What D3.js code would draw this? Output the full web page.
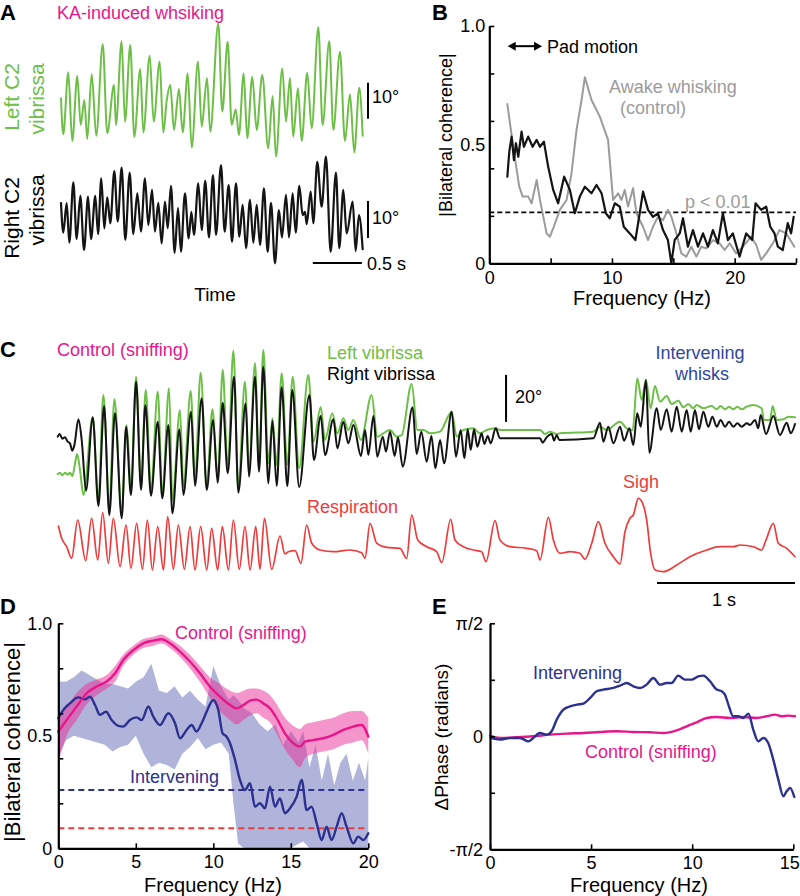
<!DOCTYPE html>
<html><head><meta charset="utf-8">
<script src="https://cdn.jsdelivr.net/npm/d3@7"></script>
<style>
body{margin:0;background:#fff;}
svg{display:block;font-family:"Liberation Sans",Arial,Helvetica,sans-serif;}
</style></head><body>
<svg id="fig" width="800" height="896"></svg>
<script>
// ---------------- DATA ----------------
// Panel A: KA-induced whisking, [time (s), angle (deg)]
const aLeft = [[0,-2.3],[0.023,-12.3],[0.074,4.9],[0.115,-14.2],[0.166,3.9],[0.201,-9.7],[0.238,-2.8],[0.268,-13.6],[0.313,4.4],[0.360,-12.7],[0.426,12.8],[0.472,-12.0],[0.541,1.4],[0.561,-9.7],[0.619,13.6],[0.653,-8.8],[0.707,12.5],[0.748,-13.0],[0.809,5.8],[0.840,-11.8],[0.905,9.5],[0.946,-8.8],[1.007,7.9],[1.044,-11.8],[1.078,-3.1],[1.115,1.4],[1.153,-11.1],[1.204,0.3],[1.242,-11.8],[1.293,4.6],[1.334,-16.0],[1.398,7.9],[1.436,-10.2],[1.490,3.3],[1.523,-11.6],[1.605,18.5],[1.646,-6.0],[1.701,13.4],[1.742,-9.7],[1.783,-5.4],[1.816,-12.5],[1.864,4.6],[1.901,-13.4],[1.952,3.7],[1.997,-11.1],[2.054,4.2],[2.115,-16.2],[2.160,-1.7],[2.194,-18.5],[2.258,6.0],[2.296,-8.8],[2.337,3.3],[2.370,-13.0],[2.418,0.5],[2.456,-14.2],[2.513,4.8],[2.558,-10.6],[2.626,17.4],[2.670,-9.7],[2.738,13.6],[2.779,-11.1],[2.847,10.6],[2.898,-14.2],[2.949,-1.2],[2.993,-17.3],[3.044,0.6],[3.079,-12.7]];
const aRight = [[0,1.9],[0.023,-6.3],[0.058,1.9],[0.085,-9.1],[0.126,7.7],[0.160,-8.1],[0.197,3.9],[0.235,-11.1],[0.276,3.7],[0.306,-8.1],[0.350,3.9],[0.378,-6.7],[0.411,8.8],[0.442,-5.1],[0.472,3.5],[0.503,-3.7],[0.544,10.8],[0.579,-3.2],[0.619,11.8],[0.656,-8.3],[0.701,10.4],[0.738,-6.7],[0.779,4.6],[0.816,-6.0],[0.857,8.8],[0.891,-4.2],[0.929,5.6],[0.959,-6.0],[0.993,2.0],[1.027,-9.3],[1.061,2.3],[1.089,-5.1],[1.122,6.7],[1.160,-11.9],[1.194,0.5],[1.224,-11.6],[1.265,4.6],[1.303,-7.9],[1.330,-0.5],[1.357,-6.9],[1.401,7.4],[1.436,-5.6],[1.472,8.1],[1.510,-7.6],[1.551,9.7],[1.582,-6.9],[1.633,12.5],[1.670,-6.0],[1.711,6.9],[1.745,-8.8],[1.786,7.4],[1.820,-7.4],[1.854,1.4],[1.888,-10.6],[1.929,2.8],[1.963,-9.1],[1.997,1.4],[2.031,-9.7],[2.071,6.0],[2.109,-11.6],[2.143,2.0],[2.184,-14.8],[2.224,0],[2.255,-7.6],[2.296,4.2],[2.327,-7.6],[2.364,4.6],[2.395,-6.3],[2.432,6.7],[2.466,-1.4],[2.490,-0.5],[2.507,-3.9],[2.548,5.1],[2.575,-3.7],[2.615,13.4],[2.660,0.9],[2.704,14.8],[2.752,-11.6],[2.806,10.4],[2.840,-10.6],[2.881,5.6],[2.915,-6.5],[2.977,2.3],[3.007,-11.4],[3.041,-1.4],[3.079,-10.9]];

// Panel B: |bilateral coherence| vs frequency (Hz)
const bControl = [[1.47,0.671],[1.95,0.491],[2.44,0.323],[2.72,0.281],[3.17,0.281],[3.45,0.253],[3.86,0.351],[4.13,0.267],[4.67,0.126],[4.94,0.112],[5.26,0.154],[5.75,0.225],[6.30,0.267],[6.70,0.379],[7.11,0.562],[7.52,0.688],[7.79,0.784],[8.33,0.688],[9.01,0.618],[9.68,0.520],[10.09,0.267],[10.50,0.295],[10.77,0.267],[11.04,0.309],[11.31,0.239],[11.72,0.316],[11.99,0.211],[12.53,0.154],[12.94,0.098],[13.34,0.154],[13.75,0.196],[14.16,0.182],[14.56,0.225],[14.84,0.196],[15.25,0.126],[15.65,0.042],[16.06,0.028],[16.47,0.070],[16.88,0.028],[17.28,0.070],[17.69,0.063],[18.23,0.098],[18.77,0.084],[19.18,0.056],[19.59,0.084],[20.13,0.042],[20.67,0.070],[21.35,0.112],[21.76,0.077],[22.16,0.014],[22.57,0.042],[23.11,0.084],[23.65,0.140],[24.20,0.126],[24.87,0.070]];
const bKA = [[1.47,0.365],[1.63,0.470],[1.82,0.534],[2.01,0.435],[2.17,0.506],[2.36,0.449],[2.63,0.555],[2.82,0.491],[3.17,0.534],[3.53,0.491],[3.86,0.520],[4.13,0.491],[4.45,0.513],[4.80,0.407],[5.21,0.309],[5.61,0.253],[6.10,0.365],[6.57,0.309],[6.97,0.211],[7.38,0.281],[7.79,0.323],[8.33,0.295],[8.74,0.330],[9.15,0.295],[9.50,0.211],[9.82,0.190],[10.23,0.253],[10.63,0.239],[10.96,0.154],[11.45,0.126],[11.91,0.098],[12.26,0.211],[12.53,0.302],[12.94,0.225],[13.34,0.196],[13.75,0.211],[14.16,0.140],[14.56,0.098],[14.84,0.0],[15.11,0.098],[15.52,0.126],[15.79,0.190],[16.19,0.070],[16.60,0.140],[17.01,0.070],[17.42,0.126],[17.82,0.070],[18.23,0.140],[18.63,0.084],[19.04,0.211],[19.45,0.098],[19.85,0.126],[20.40,0.028],[20.94,0.126],[21.43,0.098],[21.70,0.253],[22.16,0.225],[22.57,0.239],[22.90,0.154],[23.25,0.126],[23.52,0.070],[23.92,0.056],[24.33,0.169],[24.60,0.126],[24.81,0.196]];
const bThreshold = 0.215;
const bPadMotion = [1.5, 4.3];
const bYTicks = [0, 0.2, 0.4, 0.6, 0.8, 1.0];
const bYLabels = [0, 0.5, 1.0];
const bXTicks = [0, 5, 10, 15, 20, 25];
const bXLabels = [0, 10, 20];

// Panel C: sniffing, [time (s), angle (deg)] and respiration [time (s), a.u.]
const cLeft = [[0,-14.47],[0.017,-13.90],[0.034,-15.04],[0.053,-13.90],[0.072,-14.75],[0.089,-13.90],[0.106,-15.32],[0.126,-9.93],[0.140,-5.96],[0.162,-12.77],[0.186,-23.40],[0.254,9.65],[0.295,-25.53],[0.331,19.15],[0.374,-29.08],[0.411,17.30],[0.464,-30.50],[0.500,6.38],[0.531,-21.28],[0.568,26.95],[0.604,-19.15],[0.638,21.28],[0.676,-21.28],[0.725,20.57],[0.758,-22.70],[0.807,21.99],[0.831,-25.53],[0.886,12.77],[0.911,-19.86],[0.964,20.85],[0.995,-17.02],[1.036,28.65],[1.080,-19.15],[1.121,13.05],[1.159,-15.60],[1.196,29.79],[1.232,-12.06],[1.273,38.01],[1.309,-19.86],[1.357,24.82],[1.386,-12.77],[1.430,32.62],[1.459,-11.35],[1.490,38.30],[1.527,-9.93],[1.556,9.22],[1.587,-10.64],[1.623,28.37],[1.664,-10.64],[1.703,26.95],[1.750,-12.0],[1.816,27.66],[1.853,-0.71],[1.906,13.90],[1.937,0],[1.990,11.35],[2.027,2.84],[2.070,9.22],[2.106,4.26],[2.143,8.51],[2.198,0],[2.275,19.15],[2.316,1.42],[2.360,2.84],[2.408,4.26],[2.457,1.42],[2.493,2.13],[2.565,23.83],[2.606,4.26],[2.650,4.26],[2.698,2.84],[2.771,3.55],[2.855,12.06],[2.891,1.42],[2.940,4.26],[3.012,4.96],[3.060,2.84],[3.109,4.26],[3.174,4.96],[3.205,4.26],[3.495,4.26],[3.531,2.55],[3.568,3.55],[3.616,2.55],[3.640,2.84],[3.882,3.55],[3.930,5.67],[3.978,4.26],[4.075,7.80],[4.123,4.96],[4.167,4.26],[4.200,26.24],[4.232,17.02],[4.263,25.53],[4.297,13.48],[4.328,22.98],[4.365,16.31],[4.413,18.72],[4.449,15.32],[4.498,16.74],[4.534,13.90],[4.570,15.32],[4.606,13.48],[4.630,14.89],[4.679,13.48],[4.739,14.47],[4.775,13.05],[4.804,14.47],[4.836,13.05],[4.865,14.18],[4.896,13.05],[4.925,14.18],[4.957,13.05],[4.993,14.18],[5.041,14.89],[5.101,13.48],[5.118,8.51],[5.162,8.51],[5.181,14.47],[5.210,8.51],[5.259,8.79],[5.295,9.93],[5.343,9.65]];
const cRight = [[0,1.42],[0.014,2.55],[0.034,0.57],[0.053,1.13],[0.072,-0.71],[0.089,-1.42],[0.106,-4.54],[0.121,-2.13],[0.150,8.79],[0.174,0],[0.205,-21.56],[0.254,9.65],[0.295,-28.09],[0.336,14.47],[0.374,-31.91],[0.415,11.35],[0.464,-33.33],[0.495,5.67],[0.531,-23.40],[0.568,24.82],[0.604,-21.28],[0.635,14.89],[0.676,-23.69],[0.725,7.80],[0.758,-24.82],[0.802,6.38],[0.831,-31.21],[0.882,4.54],[0.911,-23.40],[0.966,12.06],[0.995,-19.57],[1.043,17.73],[1.080,-21.28],[1.126,8.51],[1.159,-18.16],[1.196,15.89],[1.232,-14.18],[1.278,26.95],[1.309,-22.41],[1.362,15.60],[1.386,-15.60],[1.430,26.95],[1.459,-13.48],[1.490,31.21],[1.527,-18.44],[1.556,8.23],[1.587,-19.57],[1.623,22.41],[1.664,-19.57],[1.700,21.28],[1.750,-20.0],[1.824,19.15],[1.857,-8.51],[1.906,10.21],[1.937,-6.38],[1.998,8.79],[2.027,-3.55],[2.070,7.80],[2.106,-1.42],[2.143,6.38],[2.198,-6.81],[2.227,4.26],[2.251,-6.38],[2.288,10.21],[2.316,-7.09],[2.355,1.42],[2.379,-4.96],[2.408,3.55],[2.442,-6.81],[2.466,1.13],[2.500,-11.35],[2.572,13.90],[2.601,-5.96],[2.635,3.55],[2.674,-9.22],[2.708,1.70],[2.737,-12.06],[2.771,0],[2.800,-9.93],[2.855,12.06],[2.886,-7.09],[2.920,4.26],[2.947,-7.80],[2.971,4.54],[2.993,-4.26],[3.017,4.54],[3.041,-2.84],[3.072,2.84],[3.092,-1.70],[3.116,1.70],[3.138,-1.42],[3.174,4.96],[3.205,0.71],[3.495,0.71],[3.514,-1.13],[3.543,1.13],[3.580,2.55],[3.597,-0.28],[3.616,2.13],[3.635,0],[3.882,0.71],[3.930,7.38],[3.954,-0.71],[3.990,5.67],[4.027,-1.42],[4.075,5.67],[4.104,-0.28],[4.143,4.96],[4.171,-2.13],[4.200,11.35],[4.225,5.67],[4.263,25.53],[4.287,-5.39],[4.341,13.48],[4.370,4.26],[4.413,13.05],[4.449,3.55],[4.486,14.18],[4.522,3.55],[4.558,12.77],[4.587,3.55],[4.618,12.77],[4.647,4.54],[4.679,12.06],[4.715,5.67],[4.744,9.93],[4.776,5.67],[4.804,8.51],[4.836,5.67],[4.865,7.80],[4.896,5.67],[4.925,7.09],[4.957,5.67],[4.993,7.09],[5.017,6.38],[5.053,8.51],[5.077,4.96],[5.094,10.64],[5.133,2.55],[5.186,10.21],[5.234,2.13],[5.283,7.38],[5.312,2.84],[5.343,6.81]];
const cResp = [[0.005,4.6],[0.029,3.37],[0.065,2.53],[0.101,1.37],[0.145,5.2],[0.203,1.13],[0.246,5.37],[0.290,1.2],[0.326,5.93],[0.367,0.87],[0.403,5.37],[0.452,0.53],[0.495,4.7],[0.531,0.37],[0.572,4.87],[0.614,0.27],[0.650,5.2],[0.686,0.2],[0.725,4.53],[0.766,0.2],[0.797,5.53],[0.838,0.27],[0.874,4.7],[0.918,0.27],[0.959,4.53],[0.995,0.2],[1.036,4.53],[1.080,0.2],[1.116,4.37],[1.159,0.2],[1.193,4.53],[1.237,0.2],[1.273,5.2],[1.316,0.27],[1.357,4.53],[1.394,0.2],[1.435,4.53],[1.466,0.27],[1.498,5.37],[1.551,0.27],[1.611,3.6],[1.647,1.8],[1.671,2.03],[1.720,2.13],[1.763,0.87],[1.804,4.7],[1.841,2.87],[1.901,2.2],[1.998,2.03],[2.118,2.2],[2.203,1.93],[2.227,1.37],[2.263,4.87],[2.312,2.87],[2.384,2.47],[2.481,2.37],[2.529,1.37],[2.565,5.7],[2.609,3.2],[2.674,2.53],[2.746,2.03],[2.783,0.93],[2.848,5.27],[2.879,3.2],[2.940,2.53],[3.012,2.2],[3.072,2.03],[3.104,1.03],[3.169,5.13],[3.205,3.2],[3.278,2.53],[3.399,2.37],[3.471,2.13],[3.495,1.2],[3.556,5.47],[3.592,3.2],[3.640,1.87],[3.713,2.03],[3.785,1.87],[3.821,1.27],[3.870,2.87],[3.918,5.03],[3.966,2.87],[4.027,1.53],[4.075,0.8],[4.111,4.03],[4.147,5.37],[4.171,5.7],[4.208,7.37],[4.239,6.87],[4.268,5.2],[4.297,1.87],[4.329,0.2],[4.389,0.03],[4.486,0.7],[4.582,1.53],[4.703,2.2],[4.800,2.53],[4.896,2.53],[4.945,2.7],[5.041,2.53],[5.101,2.2],[5.133,3.2],[5.186,4.87],[5.222,2.87],[5.283,2.37],[5.343,1.53]];

// Panel D: coherence spectra
const dCtrlFreq = [0,0.54,1.18,1.83,2.47,3.12,3.66,4.19,4.84,5.48,6.13,6.67,7.20,7.85,8.49,9.14,9.78,10.43,11.08,11.51,11.94,12.37,12.80,13.23,13.66,14.09,14.62,15.05,15.59,15.91,16.45,17.10,17.74,18.39,19.03,19.57,20.0];
const dCtrlMean = [0.519,0.570,0.630,0.689,0.719,0.741,0.778,0.837,0.881,0.911,0.923,0.929,0.911,0.874,0.830,0.778,0.719,0.674,0.637,0.622,0.637,0.656,0.661,0.644,0.622,0.578,0.511,0.474,0.452,0.474,0.481,0.489,0.504,0.526,0.541,0.548,0.496];
const dCtrlHigh = [0.60,0.63,0.69,0.73,0.75,0.77,0.81,0.86,0.90,0.93,0.94,0.95,0.93,0.90,0.86,0.81,0.76,0.73,0.70,0.69,0.70,0.71,0.71,0.70,0.68,0.64,0.58,0.55,0.53,0.55,0.56,0.57,0.58,0.60,0.61,0.61,0.58];
const dCtrlLow = [0.38,0.50,0.57,0.64,0.68,0.71,0.74,0.81,0.86,0.89,0.90,0.91,0.89,0.85,0.80,0.74,0.67,0.61,0.57,0.55,0.57,0.59,0.60,0.58,0.56,0.51,0.44,0.40,0.36,0.40,0.42,0.43,0.44,0.46,0.47,0.48,0.42];
const dIntFreq = [0,0.32,0.75,1.29,1.72,2.04,2.37,2.69,3.08,3.44,3.87,4.19,4.62,5.05,5.38,5.81,6.13,6.56,7.10,7.53,7.85,8.28,8.60,8.92,9.25,9.57,10.00,10.32,10.60,10.86,11.08,11.40,11.72,12.04,12.37,12.69,13.01,13.33,13.66,13.98,14.30,14.62,14.95,15.38,15.70,16.02,16.34,16.67,16.99,17.31,17.63,17.96,18.28,18.60,19.03,19.35,19.68,20.0];
const dIntMean = [0.578,0.615,0.644,0.671,0.662,0.674,0.637,0.593,0.607,0.570,0.544,0.541,0.570,0.582,0.570,0.630,0.585,0.548,0.600,0.556,0.489,0.526,0.548,0.519,0.556,0.607,0.659,0.615,0.511,0.496,0.467,0.393,0.304,0.259,0.289,0.185,0.200,0.178,0.274,0.185,0.222,0.156,0.178,0.230,0.304,0.170,0.185,0.111,0.037,0.096,0.037,0.096,0.156,0.096,0.022,0.052,0.037,0.067];
const dBandFreq = [0,0.5,1.0,1.5,2.0,2.5,3.0,3.5,4.0,4.5,5.0,5.5,6.0,6.5,7.0,7.5,8.0,8.5,9.0,9.5,10.0,10.5,11.0,11.3,11.6,12.0,12.5,13.0,13.5,14.0,14.5,15.0,15.5,15.8,16.2,16.6,17.0,17.4,17.8,18.2,18.6,19.0,19.4,19.8,20.0];
const dIntHigh = [0.74,0.74,0.76,0.79,0.77,0.75,0.73,0.73,0.72,0.71,0.74,0.76,0.82,0.70,0.69,0.72,0.67,0.70,0.66,0.63,0.81,0.72,0.66,0.68,0.66,0.62,0.60,0.55,0.52,0.55,0.46,0.52,0.47,0.52,0.36,0.46,0.30,0.42,0.28,0.38,0.42,0.30,0.38,0.30,0.40];
const dIntLow = [0.41,0.48,0.50,0.49,0.48,0.47,0.46,0.43,0.45,0.46,0.50,0.42,0.36,0.38,0.37,0.35,0.42,0.45,0.49,0.44,0.46,0.47,0.42,0.20,0.02,0,0,0,0,0,0,0,0.02,0.03,0,0,0,0,0,0,0,0,0,0,0];
const dSigInt = 0.259;
const dSigCtrl = 0.089;
const dYTicks = [0, 0.2, 0.4, 0.6, 0.8, 1.0];
const dYLabels = [0, 0.5, 1.0];
const dXTicks = [0, 5, 10, 15, 20];

// Panel E: phase difference (radians)
const eIntervening = [[0.03,-0.023],[0.49,-0.046],[0.99,-0.023],[1.48,-0.023],[1.90,-0.070],[2.14,-0.023],[2.47,0.046],[2.80,0.023],[3.05,0.070],[3.30,0.232],[3.63,0.371],[3.96,0.417],[4.29,0.440],[4.62,0.454],[4.95,0.533],[5.27,0.626],[5.60,0.649],[6.10,0.672],[6.43,0.704],[6.76,0.741],[7.09,0.695],[7.42,0.672],[7.75,0.718],[8.08,0.811],[8.41,0.718],[8.74,0.741],[8.98,0.741],[9.31,0.843],[9.64,0.788],[9.97,0.788],[10.30,0.834],[10.55,0.843],[10.88,0.765],[11.21,0.649],[11.46,0.626],[11.62,0.579],[11.79,0.440],[12.03,0.278],[12.28,0.278],[12.53,0.255],[12.78,0.315],[13.02,0.093],[13.27,-0.070],[13.52,-0.023],[13.76,-0.093],[14.01,-0.324],[14.26,-0.602],[14.51,-0.834],[14.67,-0.765],[14.84,-0.718],[15.05,-0.843]];
const eControl = [[0,0.009],[0.49,-0.023],[1.32,-0.014],[2.14,0],[2.97,0.023],[3.79,0.037],[4.62,0.046],[5.44,0.060],[6.26,0.070],[7.09,0.060],[7.91,0.056],[8.57,0.046],[9.23,0.083],[9.73,0.139],[10.22,0.195],[10.71,0.255],[11.21,0.269],[11.87,0.255],[12.53,0.269],[13.19,0.255],[13.68,0.278],[14.09,0.301],[14.42,0.278],[14.75,0.287],[15.08,0.278]];
const eYTicks = [-Math.PI/2, -Math.PI/4, 0, Math.PI/4, Math.PI/2];
const eYLabels = [-Math.PI/2, 0, Math.PI/2];
const eYLabelText = ["-\u03c0/2", "0", "\u03c0/2"];
const eXTicks = [0, 5, 10, 15];

// ---------------- DRAWING ----------------
const FONT = '"Liberation Sans", Arial, Helvetica, sans-serif';
const GREEN = "#6dbf47", BLACK = "#141414", RED = "#ef3b3b", MAG = "#e8168a", NAVY = "#2c3190", BLUE = "#2e46a0", GRAY = "#9b9b9b";
const svg = d3.select("#fig");

function txt(x, y, s, o = {}) {
  const t = svg.append("text").attr("x", x).attr("y", y).text(s)
    .attr("font-family", FONT)
    .attr("font-size", o.size || 18).attr("fill", o.color || "#000")
    .attr("text-anchor", o.anchor || "start")
    .attr("dominant-baseline", o.baseline || "central");
  if (o.weight) t.attr("font-weight", o.weight);
  if (o.rotate) t.attr("transform", `rotate(${o.rotate},${x},${y})`);
  return t;
}
function vbar(x, y0, y1, w) {
  svg.append("line").attr("x1", x).attr("x2", x).attr("y1", y0).attr("y2", y1).attr("stroke", "#000").attr("stroke-width", w || 2);
}
function hbar(x0, x1, y, w) {
  svg.append("line").attr("x1", x0).attr("x2", x1).attr("y1", y).attr("y2", y).attr("stroke", "#000").attr("stroke-width", w || 2);
}
function trace(data, xs, ys, color, width, curve) {
  const ln = d3.line().x(d => xs(d[0])).y(d => ys(d[1])).curve(curve || d3.curveMonotoneX);
  svg.append("path").datum(data).attr("d", ln).attr("fill", "none").attr("stroke", color)
    .attr("stroke-width", width || 2).attr("stroke-linejoin", "round").attr("stroke-linecap", "round");
}
function axes(xs, ys, xTicks, xLabels, xFmt, yTicks, yLabels, yFmt, o) {
  const gx = svg.append("g").attr("transform", `translate(0,${ys.range()[0]})`)
    .call(d3.axisBottom(xs).tickValues(xTicks).tickSizeInner(-5).tickSizeOuter(0).tickFormat(""));
  const gy = svg.append("g").attr("transform", `translate(${xs.range()[0]},0)`)
    .call(d3.axisLeft(ys).tickValues(yTicks).tickSizeInner(-5).tickSizeOuter(0).tickFormat(""));
  [gx, gy].forEach(g => {
    g.select(".domain").attr("stroke", "#000").attr("stroke-width", 2.2);
    g.selectAll(".tick line").attr("stroke", "#000").attr("stroke-width", 1.6);
  });
  const lx = svg.append("g").attr("transform", `translate(0,${ys.range()[0]})`)
    .call(d3.axisBottom(xs).tickValues(xLabels).tickSize(0).tickPadding(o.xPad).tickFormat(xFmt));
  const ly = svg.append("g").attr("transform", `translate(${xs.range()[0]},0)`)
    .call(d3.axisLeft(ys).tickValues(yLabels).tickSize(0).tickPadding(o.yPad).tickFormat(yFmt));
  [lx, ly].forEach(g => {
    g.select(".domain").remove();
    g.selectAll("text").attr("font-size", o.size).attr("font-family", FONT).attr("fill", "#000");
  });
  if (o.lastDx) lx.selectAll("text").filter((d, i, n) => i === n.length - 1).attr("dx", o.lastDx);
}
const fmtCoh = d => d === 0 ? "0" : d3.format(".1f")(d);

// ---- Panel A ----
txt(0, 20, "A", {size: 22, weight: "bold", baseline: "auto"});
txt(57, 13, "KA-induced whsiking", {color: MAG});
const ax = d3.scaleLinear().domain([0, 3.079]).range([61, 362.7]);
const ayL = d3.scaleLinear().domain([-10, 10]).range([126, 54]);
const ayR = d3.scaleLinear().domain([-10, 10]).range([246, 174]);
trace(aLeft, ax, ayL, GREEN, 2);
trace(aRight, ax, ayR, BLACK, 2.2);
txt(11, 97, "Left C2", {size: 21, color: GREEN, anchor: "middle", rotate: -90});
txt(36, 99, "vibrissa", {size: 21, color: GREEN, anchor: "middle", rotate: -90});
txt(11, 218, "Right C2", {size: 21, color: "#000", anchor: "middle", rotate: -90});
txt(36, 210, "vibrissa", {size: 21, color: "#000", anchor: "middle", rotate: -90});
vbar(368, ayL(-8), ayL(2));
txt(372, 97, "10°");
vbar(368, ayR(-7.8), ayR(2.5));
txt(372, 218, "10°");
hbar(ax(2.57), ax(3.07), 263);
txt(367, 264, "0.5 s");
txt(215, 294, "Time", {size: 19, anchor: "middle"});

// ---- Panel B ----
txt(432, 20, "B", {size: 22, weight: "bold", baseline: "auto"});
const bx = d3.scaleLinear().domain([0, 25]).range([489.3, 796]);
const by = d3.scaleLinear().domain([0, 1]).range([263.3, 26]);
svg.append("line").attr("x1", bx(0)).attr("x2", bx(25)).attr("y1", by(bThreshold)).attr("y2", by(bThreshold))
  .attr("stroke", "#000").attr("stroke-width", 1.8).attr("stroke-dasharray", "5,3");
trace(bControl, bx, by, GRAY, 2, d3.curveLinear);
trace(bKA, bx, by, BLACK, 2.2, d3.curveLinear);
axes(bx, by, bXTicks, bXLabels, d => d, bYTicks, bYLabels, fmtCoh, {xPad: 8, yPad: 4, size: 18});
txt(446, 135, "|Bilateral coherence|", {size: 18, anchor: "middle", rotate: -90});
txt(642, 298, "Frequency (Hz)", {size: 20, anchor: "middle"});
// pad motion double arrow
{
  const yA = by(0.915), x0 = bx(bPadMotion[0]), x1 = bx(bPadMotion[1]);
  hbar(x0 + 4, x1 - 4, yA, 2);
  svg.append("path").attr("d", `M${x0},${yA} L${x0 + 8},${yA - 4.5} L${x0 + 8},${yA + 4.5} Z`).attr("fill", "#000");
  svg.append("path").attr("d", `M${x1},${yA} L${x1 - 8},${yA - 4.5} L${x1 - 8},${yA + 4.5} Z`).attr("fill", "#000");
  txt(x1 + 5, yA + 1, "Pad motion");
}
txt(609, 87, "Awake whisking", {color: GRAY});
txt(620, 108, "(control)", {color: GRAY});
txt(685, 202, "p < 0.01", {color: GRAY});

// ---- Panel C ----
txt(0, 357, "C", {size: 22, weight: "bold", baseline: "auto"});
txt(57, 350, "Control (sniffing)", {color: MAG});
const cx = d3.scaleLinear().domain([0, 5.343]).range([57.7, 795]);
const cy = d3.scaleLinear().domain([-20, 20]).range([487, 393]);
const cr = d3.scaleLinear().domain([0, 8]).range([572, 492]);
trace(cLeft, cx, cy, GREEN, 2);
trace(cRight, cx, cy, BLACK, 2);
trace(cResp, cx, cr, RED, 1.7);
txt(327, 353, "Left vibrissa", {color: GREEN});
txt(327, 374, "Right vibrissa", {color: "#000"});
vbar(cx(3.249), cy(27.7), cy(7.7));
txt(515, 397, "20°");
txt(700, 353, "Intervening", {color: BLUE, anchor: "middle"});
txt(702, 374, "whisks", {color: BLUE, anchor: "middle"});
txt(307, 507, "Respiration", {color: RED});
txt(623, 482, "Sigh", {color: RED});
hbar(cx(4.343), cx(5.343), 583);
txt(712, 600, "1 s");

// ---- Panel D ----
txt(0, 614, "D", {size: 22, weight: "bold", baseline: "auto"});
const dx = d3.scaleLinear().domain([0, 20]).range([58.3, 368.3]);
const dy = d3.scaleLinear().domain([0, 1]).range([848.3, 623.3]);
{
  const bandI = d3.area().x((d, i) => dx(dBandFreq[i])).y0((d, i) => dy(dIntLow[i])).y1((d, i) => dy(dIntHigh[i])).curve(d3.curveLinear);
  svg.append("path").datum(dBandFreq).attr("d", bandI).attr("fill", "#7f84c4").attr("fill-opacity", 0.62);
  const bandC = d3.area().x((d, i) => dx(dCtrlFreq[i])).y0((d, i) => dy(dCtrlLow[i])).y1((d, i) => dy(dCtrlHigh[i])).curve(d3.curveMonotoneX);
  svg.append("path").datum(dCtrlFreq).attr("d", bandC).attr("fill", "#ea2d97").attr("fill-opacity", 0.5);
  svg.append("line").attr("x1", dx(0)).attr("x2", dx(20)).attr("y1", dy(dSigInt)).attr("y2", dy(dSigInt))
    .attr("stroke", NAVY).attr("stroke-width", 2).attr("stroke-dasharray", "6,4");
  svg.append("line").attr("x1", dx(0)).attr("x2", dx(20)).attr("y1", dy(dSigCtrl)).attr("y2", dy(dSigCtrl))
    .attr("stroke", RED).attr("stroke-width", 2).attr("stroke-dasharray", "6,4");
  trace(dIntFreq.map((f, i) => [f, dIntMean[i]]), dx, dy, NAVY, 2.4, d3.curveMonotoneX);
  trace(dCtrlFreq.map((f, i) => [f, dCtrlMean[i]]), dx, dy, MAG, 2.4, d3.curveMonotoneX);
}
axes(dx, dy, dXTicks, dXTicks, d => d, dYTicks, dYLabels, fmtCoh, {xPad: 7, yPad: 6, size: 18});
txt(12, 742, "|Bilateral coherence|", {size: 22, anchor: "middle", rotate: -90});
txt(213, 885, "Frequency (Hz)", {size: 20, anchor: "middle"});
txt(175, 633, "Control (sniffing)", {color: MAG});
txt(130, 777, "Intervening", {color: NAVY});

// ---- Panel E ----
txt(432, 614, "E", {size: 22, weight: "bold", baseline: "auto"});
const ex = d3.scaleLinear().domain([0, 15]).range([490, 793.3]);
const ey = d3.scaleLinear().domain([-Math.PI / 2, Math.PI / 2]).range([849.3, 623.3]);
trace(eControl, ex, ey, MAG, 2.4, d3.curveMonotoneX);
trace(eIntervening, ex, ey, NAVY, 2.4, d3.curveMonotoneX);
axes(ex, ey, eXTicks, eXTicks, d => d, eYTicks, eYLabels, (d, i) => eYLabelText[i], {xPad: 7, yPad: 7, size: 18, lastDx: -4});
txt(441, 737, "\u0394Phase (radians)", {size: 19, anchor: "middle", rotate: -90});
txt(639, 885, "Frequency (Hz)", {size: 20, anchor: "middle"});
txt(533, 673, "Intervening", {color: NAVY});
txt(585, 752, "Control (sniffing)", {color: MAG});
</script>
</body></html>
